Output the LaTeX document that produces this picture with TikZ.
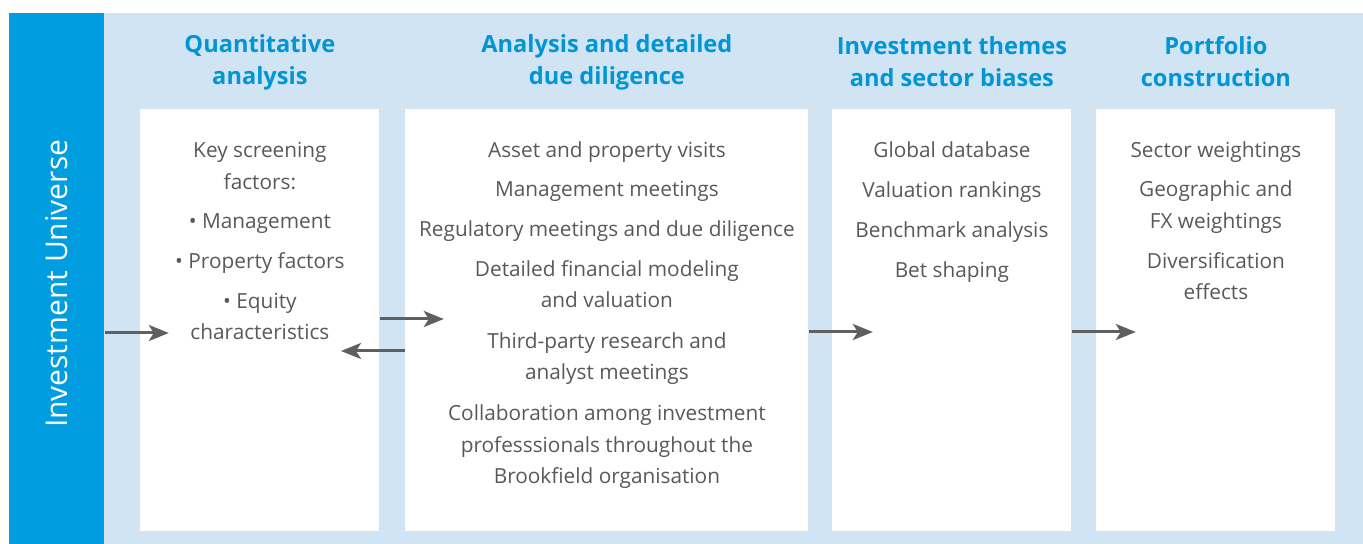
\documentclass[tikz,border=0pt]{standalone}
\usepackage{fontspec}
\setmainfont{Open Sans}
\usetikzlibrary{arrows.meta,positioning}

\definecolor{univblue}{HTML}{009EE0}
\definecolor{paleblue}{HTML}{D1E4F3}
\definecolor{headblue}{HTML}{0096D6}
\definecolor{bodygrey}{HTML}{595959}
\definecolor{arrowgrey}{HTML}{5F5F5F}

\tikzset{
    stagebox/.style={fill=white, draw=none, anchor=north west, inner sep=0pt,
        minimum width=119.5pt, minimum height=211pt},
    stagehead/.style={text=headblue, font=\bfseries\fontsize{11.8}{16}\selectfont,
        align=center, inner sep=0pt},
    stagetext/.style={text=bodygrey, font=\fontsize{10.4}{15.8}\selectfont,
        align=center, inner sep=0pt, anchor=north},
    flow/.style={draw=arrowgrey, line width=1.5pt,
        -{Stealth[length=10pt, width=8pt, inset=2.5pt]}},
}

\begin{document}
\begin{tikzpicture}[x=0.5pt, y=-0.5pt]
    \useasboundingbox (0,0) rectangle (1363,544);

    % background panel and the side bar
        \fill[paleblue] (9,13) rectangle (1363,544);
        \node[fill=univblue, anchor=north west, inner sep=0pt,
            minimum width=47.5pt, minimum height=265.5pt] (univ) at (9,13) {};
        \node[rotate=90, text=white, font=\fontsize{15}{18}\selectfont]
            at ([yshift=-2.5pt]univ.center) {Investment Universe};

    % white stage boxes
        \node[stagebox] (quant) at (140,109) {};
        \node[stagebox, minimum width=201.5pt] (diligence) at (405,109) {};
        \node[stagebox] (themes) at (832,109) {};
        \node[stagebox] (portfolio) at (1096,109) {};

    % stage headings
        \node[stagehead] at (quant.north |- 0,62) {Quantitative\\analysis};
        \node[stagehead] at (diligence.north |- 0,62) {Analysis and detailed\\due diligence};
        \node[stagehead] at (themes.north |- 0,62) {Investment themes\\and sector biases};
        \node[stagehead] at (portfolio.north |- 0,62) {Portfolio\\construction};

    % stage contents
        \node[stagetext] (quanttext) at (quant.north |- 0,142) {Key screening\\factors:\\[4pt]
            \textbullet{} Management\\[4pt] \textbullet{} Property factors\\[4pt]
            \textbullet{} Equity\\characteristics};
        \node[stagetext] (dilitext) at (diligence.north |- 0,141) {Asset and property visits\\[4pt]
            Management meetings\\[4pt] Regulatory meetings and due diligence\\[4pt]
            Detailed financial modeling\\and valuation\\[4.5pt]
            Third-party research and\\analyst meetings\\[4.5pt]
            Collaboration among investment\\professsionals throughout the\\Brookfield organisation};
        \node[stagetext] (themetext) at (themes.north |- 0,141) {Global database\\[4.3pt]
            Valuation rankings\\[4.3pt] Benchmark analysis\\[4.3pt] Bet shaping};
        \node[stagetext] (portext) at (portfolio.north |- 0,141) {Sector weightings\\[4pt]
            Geographic and\\FX weightings\\[4pt] Diversification\\effects};

    % connectors between stages
        \draw[flow] (univ.east |- 0,333) -- ++(64,0);
        \draw[flow] (quant.east |- 0,319) -- ++(64,0);
        \draw[flow] (diligence.west |- 0,351) -- ++(-64,0);
        \draw[flow] (diligence.east |- 0,332) -- ++(64,0);
        \draw[flow] (themes.east |- 0,332) -- ++(64,0);

\end{tikzpicture}
\end{document}
